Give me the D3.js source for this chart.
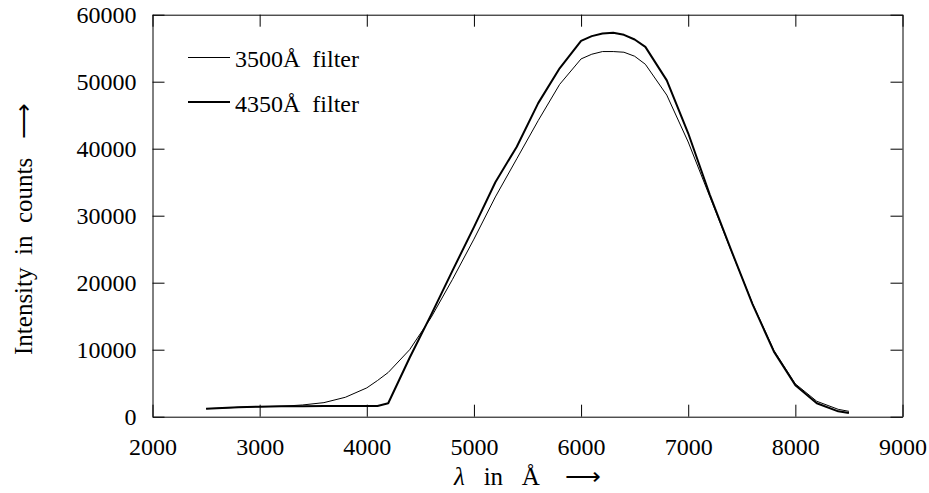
<!DOCTYPE html>
<html lang="en">
<head>
<meta charset="utf-8">
<title>Intensity vs wavelength</title>
<script src="https://d3js.org/d3.v7.min.js"></script>
<style>
  body { margin: 0; background: white; }
  svg { display: block; }
  text { font-family: "Liberation Serif", "Times New Roman", serif; fill: black; }
</style>
</head>
<body>
<div id="chart"></div>
<script>
// wavelengths in Angstrom
var lambda = [2500, 2600, 2800, 3000, 3200, 3400, 3600, 3800, 4000, 4100, 4200, 4400, 4600, 4800,
  5000, 5200, 5400, 5600, 5800, 6000, 6100, 6200, 6300, 6400, 6500, 6600, 6800, 7000, 7200, 7400,
  7600, 7800, 8000, 8200, 8400, 8500];

// 3500A filter (thin line)
var filter3500 = [1200, 1250, 1400, 1500, 1550, 1750, 2100, 2900, 4300, 5400, 6600, 10000, 14800, 20500,
  26500, 32800, 38500, 44200, 49600, 53400, 54100, 54500, 54500, 54400, 53800, 52600, 48000, 41000, 32900, 24800,
  16900, 9900, 4900, 2300, 1100, 800];

// 4350A filter (thick line)
var filter4350 = [1200, 1250, 1400, 1500, 1550, 1550, 1600, 1600, 1600, 1600, 2000, 8800, 15200, 21800,
  28300, 35000, 40300, 46800, 52000, 56100, 56800, 57200, 57300, 57000, 56300, 55200, 50200, 42300, 33200, 24900,
  16800, 9700, 4700, 2000, 800, 550];

var xTicks = [2000, 3000, 4000, 5000, 6000, 7000, 8000, 9000];
var yTicks = [0, 10000, 20000, 30000, 40000, 50000, 60000];

var seriesNames = ["3500Å  filter", "4350Å  filter"];
var seriesWidths = [1, 2];

var W = 929, H = 493;
var plotLeft = 152.5, plotRight = 902.5, plotTop = 14.7, plotBottom = 416.7;

var x = d3.scaleLinear().domain([2000, 9000]).range([plotLeft, plotRight]);
var y = d3.scaleLinear().domain([0, 60000]).range([plotBottom, plotTop]);

var svg = d3.select("#chart").append("svg")
  .attr("width", W)
  .attr("height", H);

function styleAxis(g) {
  g.attr("font-family", null).attr("font-size", null);
  g.selectAll("text").style("font-size", "24px");
  g.select(".domain").attr("stroke", "black");
}

svg.append("g")
  .attr("transform", "translate(0," + plotBottom + ")")
  .call(d3.axisBottom(x).tickValues(xTicks).tickSizeInner(-12).tickSizeOuter(0).tickPadding(21).tickFormat(d3.format("d")))
  .call(styleAxis);

svg.append("g")
  .attr("transform", "translate(0," + plotTop + ")")
  .call(d3.axisTop(x).tickValues(xTicks).tickSizeInner(-12).tickSizeOuter(0).tickFormat(""))
  .call(styleAxis);

svg.append("g")
  .attr("transform", "translate(" + plotLeft + ",0)")
  .call(d3.axisLeft(y).tickValues(yTicks).tickSizeInner(-12).tickSizeOuter(0).tickPadding(16).tickFormat(d3.format("d")))
  .call(styleAxis);

svg.append("g")
  .attr("transform", "translate(" + plotRight + ",0)")
  .call(d3.axisRight(y).tickValues(yTicks).tickSizeInner(-12).tickSizeOuter(0).tickFormat(""))
  .call(styleAxis);

var line = d3.line()
  .x(function(d) { return x(d[0]); })
  .y(function(d) { return y(d[1]); });

var series = [filter3500, filter4350];
series.forEach(function(vals, i) {
  svg.append("path")
    .datum(lambda.map(function(l, j) { return [l, vals[j]]; }))
    .attr("fill", "none")
    .attr("stroke", "black")
    .attr("stroke-width", seriesWidths[i])
    .attr("stroke-linejoin", "round")
    .attr("d", line);
});

// legend
var legend = svg.append("g").selectAll("g")
  .data(seriesNames)
  .enter().append("g")
  .attr("transform", function(d, i) { return "translate(188," + (57 + i * 45.3) + ")"; });

legend.append("line")
  .attr("x1", 0).attr("x2", 42)
  .attr("stroke", "black")
  .attr("shape-rendering", "crispEdges")
  .attr("stroke-width", function(d, i) { return seriesWidths[i]; });

legend.append("text")
  .attr("x", 47)
  .attr("y", 10)
  .style("font-size", "24px")
  .style("white-space", "pre")
  .text(function(d) { return d; });

// axis labels
var xl = svg.append("text")
  .attr("x", (plotLeft + plotRight) / 2)
  .attr("y", 485)
  .attr("text-anchor", "middle")
  .style("font-size", "25px")
  .style("white-space", "pre");
xl.append("tspan").style("font-style", "italic").text("λ");
xl.append("tspan").text("   in   Å    ⟶");

svg.append("text")
  .attr("transform", "translate(32," + 229 + ") rotate(-90)")
  .attr("text-anchor", "middle")
  .style("font-size", "25px")
  .style("white-space", "pre")
  .text("Intensity  in  counts   ⟶");
</script>
</body>
</html>
